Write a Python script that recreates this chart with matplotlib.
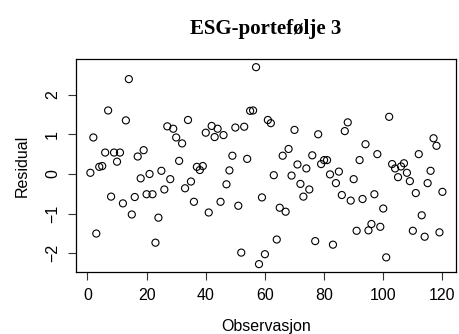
import matplotlib
matplotlib.use("Agg")
import matplotlib.pyplot as plt
import numpy as np

observations = list(range(1, 121))
residuals = [
    0.03, 0.92, -1.50, 0.18, 0.20, 0.54, 1.60, -0.57, 0.54, 0.31,
    0.54, -0.74, 1.35, 2.39, -1.02, -0.58, 0.44, -0.11, 0.60, -0.51,
    0.00, -0.51, -1.73, -1.10, 0.08, -0.39, 1.20, -0.13, 1.14, 0.92,
    0.33, 0.77, -0.36, 1.36, -0.19, -0.70, 0.18, 0.10, 0.20, 1.04,
    -0.97, 1.21, 0.93, 1.14, -0.70, 0.98, -0.26, 0.09, 0.46, 1.17,
    -0.80, -1.98, 1.19, 0.38, 1.59, 1.60, 2.69, -2.27, -0.59, -2.02,
    1.36, 1.28, -0.03, -1.65, -0.85, 0.46, -0.95, 0.63, -0.04, 1.11,
    0.24, -0.25, -0.57, 0.14, -0.39, 0.47, -1.69, 1.00, 0.25, 0.35,
    0.35, -0.01, -1.78, -0.23, 0.06, -0.53, 1.08, 1.30, -0.67, -0.13,
    -1.43, 0.35, -0.63, 0.75, -1.42, -1.26, -0.51, 0.50, -1.33, -0.87,
    -2.10, 1.44, 0.25, 0.14, -0.08, 0.19, 0.27, 0.03, -0.18, -1.43,
    -0.48, 0.50, -1.04, -1.58, -0.23, 0.08, 0.90, 0.71, -1.47, -0.45,
]
x_ticks = [0, 20, 40, 60, 80, 100, 120]
y_ticks = [-2, -1, 0, 1, 2]
title = "ESG-portefølje 3"
xlabel = "Observasjon"
ylabel = "Residual"

plt.rcParams['font.family'] = ['Liberation Sans', 'DejaVu Sans']

fig = plt.figure(figsize=(4.6, 3.34), dpi=100)
ax = fig.add_axes([76.3/460, 1-272/334, (456.5-76.3)/460, (272-59.3)/334])

ax.scatter(observations, residuals, s=26, facecolors='none', edgecolors='black', linewidths=0.8)

# R-style 4% extension
xr = max(observations) - min(observations)
ax.set_xlim(min(observations) - 0.04*xr, max(observations) + 0.04*xr)
yr = max(residuals) - min(residuals)
ax.set_ylim(min(residuals) - 0.04*yr, max(residuals) + 0.04*yr)

ax.set_xticks(x_ticks)
ax.set_yticks(y_ticks)
ax.set_yticklabels([str(v).replace('-', '\u2212') for v in y_ticks], rotation=90, va='center')
ax.set_xticklabels([str(v) for v in x_ticks])
ax.tick_params(axis='both', direction='out', length=5.8, width=0.8, labelsize=11.5, color='#333333')
ax.tick_params(axis='x', pad=6)
ax.tick_params(axis='y', pad=6)
for sp in ax.spines.values():
    sp.set_linewidth(0.9)
    sp.set_color('black')

fig.text(266/460, 1-29/334, title, ha='center', va='center',
         family=['Liberation Serif', 'DejaVu Serif'], fontweight='bold', fontsize=15)
fig.text(266/460, 1-326/334, xlabel, ha='center', va='center', fontsize=11.5)
fig.text(22/460, 1-166/334, ylabel, ha='center', va='center', rotation=90, fontsize=11.5)

fig.savefig("out.png", dpi=100)
